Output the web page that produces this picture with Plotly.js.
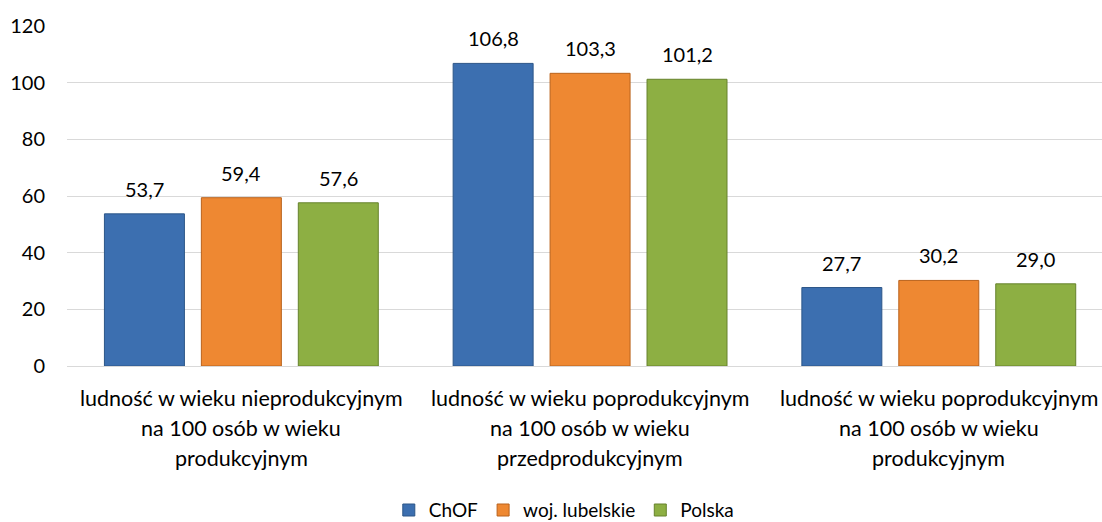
<!DOCTYPE html>
<html>
<head>
<meta charset="utf-8">
<script src="https://cdn.plot.ly/plotly-3.0.1.min.js"></script>
<style>html,body{margin:0;padding:0;background:#fff;}#chart{width:1102px;height:522px;}</style>
</head>
<body>
<div id="chart"></div>
<script>
var categories = [
  "ludność w wieku nieprodukcyjnym<br>na 100 osób w wieku<br>produkcyjnym",
  "ludność w wieku poprodukcyjnym<br>na 100 osób w wieku<br>przedprodukcyjnym",
  "ludność w wieku poprodukcyjnym <br>na 100 osób w wieku<br>produkcyjnym"
];
var seriesNames = ["ChOF", "woj. lubelskie", "Polska"];
var chof = [53.7, 106.8, 27.7];
var lubelskie = [59.4, 103.3, 30.2];
var polska = [57.6, 101.2, 29.0];
var yTicks = [0, 20, 40, 60, 80, 100, 120];

var colors = ["#3C6FB0", "#EE8832", "#8DAF43"];
var lineColors = ["#2C5688", "#B9621C", "#66822C"];
var font = "Lato, 'Noto Sans', sans-serif";
var values = [chof, lubelskie, polska];

var bargap = 0.166;
var traces = values.map(function (v, i) {
  return {
    type: "bar",
    name: seriesNames[i],
    x: [0, 1, 2],
    y: v,
    marker: { color: colors[i], line: { color: lineColors[i], width: 1 } },
    hoverinfo: "y"
  };
});

var annotations = [];
var nS = values.length;
var slot = (1 - bargap) / nS;
values.forEach(function (v, i) {
  v.forEach(function (val, k) {
    annotations.push({
      x: k + (i - (nS - 1) / 2) * slot,
      y: val,
      xref: "x", yref: "y",
      text: val.toFixed(1).replace(".", ","),
      showarrow: false,
      yanchor: "middle",
      yshift: 25,
      font: { family: font, size: 20, color: "#000" }
    });
  });
});
categories.forEach(function (c, k) {
  c.split("<br>").forEach(function (line, j) {
    annotations.push({
      x: k, y: 0, xref: "x", yref: "y",
      text: line.trim(),
      showarrow: false,
      yanchor: "middle",
      yshift: -32 - 30 * j,
      font: { family: font, size: 21.5, color: "#000" }
    });
  });
});

var layout = {
  width: 1102, height: 522,
  margin: { l: 67, r: 0, t: 26, b: 156, autoexpand: false },
  paper_bgcolor: "#fff", plot_bgcolor: "#fff",
  barmode: "group",
  bargap: bargap,
  bargroupgap: 0.175,
  showlegend: true,
  legend: {
    orientation: "h", x: 0.48, xanchor: "center", y: -0.424, yanchor: "middle",
    font: { family: font, size: 19, color: "#000" },
    traceorder: "normal", itemwidth: 30
  },
  xaxis: {
    range: [-0.5, 2.468],
    showticklabels: false,
    showgrid: false, zeroline: false, showline: false, ticks: "",
    fixedrange: true
  },
  yaxis: {
    range: [0, 120],
    tickvals: yTicks,
    ticktext: yTicks.map(String),
    showgrid: true, gridcolor: "#D9D9D9", gridwidth: 1,
    zeroline: true, zerolinecolor: "#D9D9D9", zerolinewidth: 1,
    showline: false, ticks: "",
    ticklabelstandoff: 21,
    tickfont: { family: font, size: 20, color: "#000" },
    fixedrange: true
  },
  annotations: annotations
};

Plotly.newPlot("chart", traces, layout, { displayModeBar: false, staticPlot: true });
</script>
</body>
</html>
